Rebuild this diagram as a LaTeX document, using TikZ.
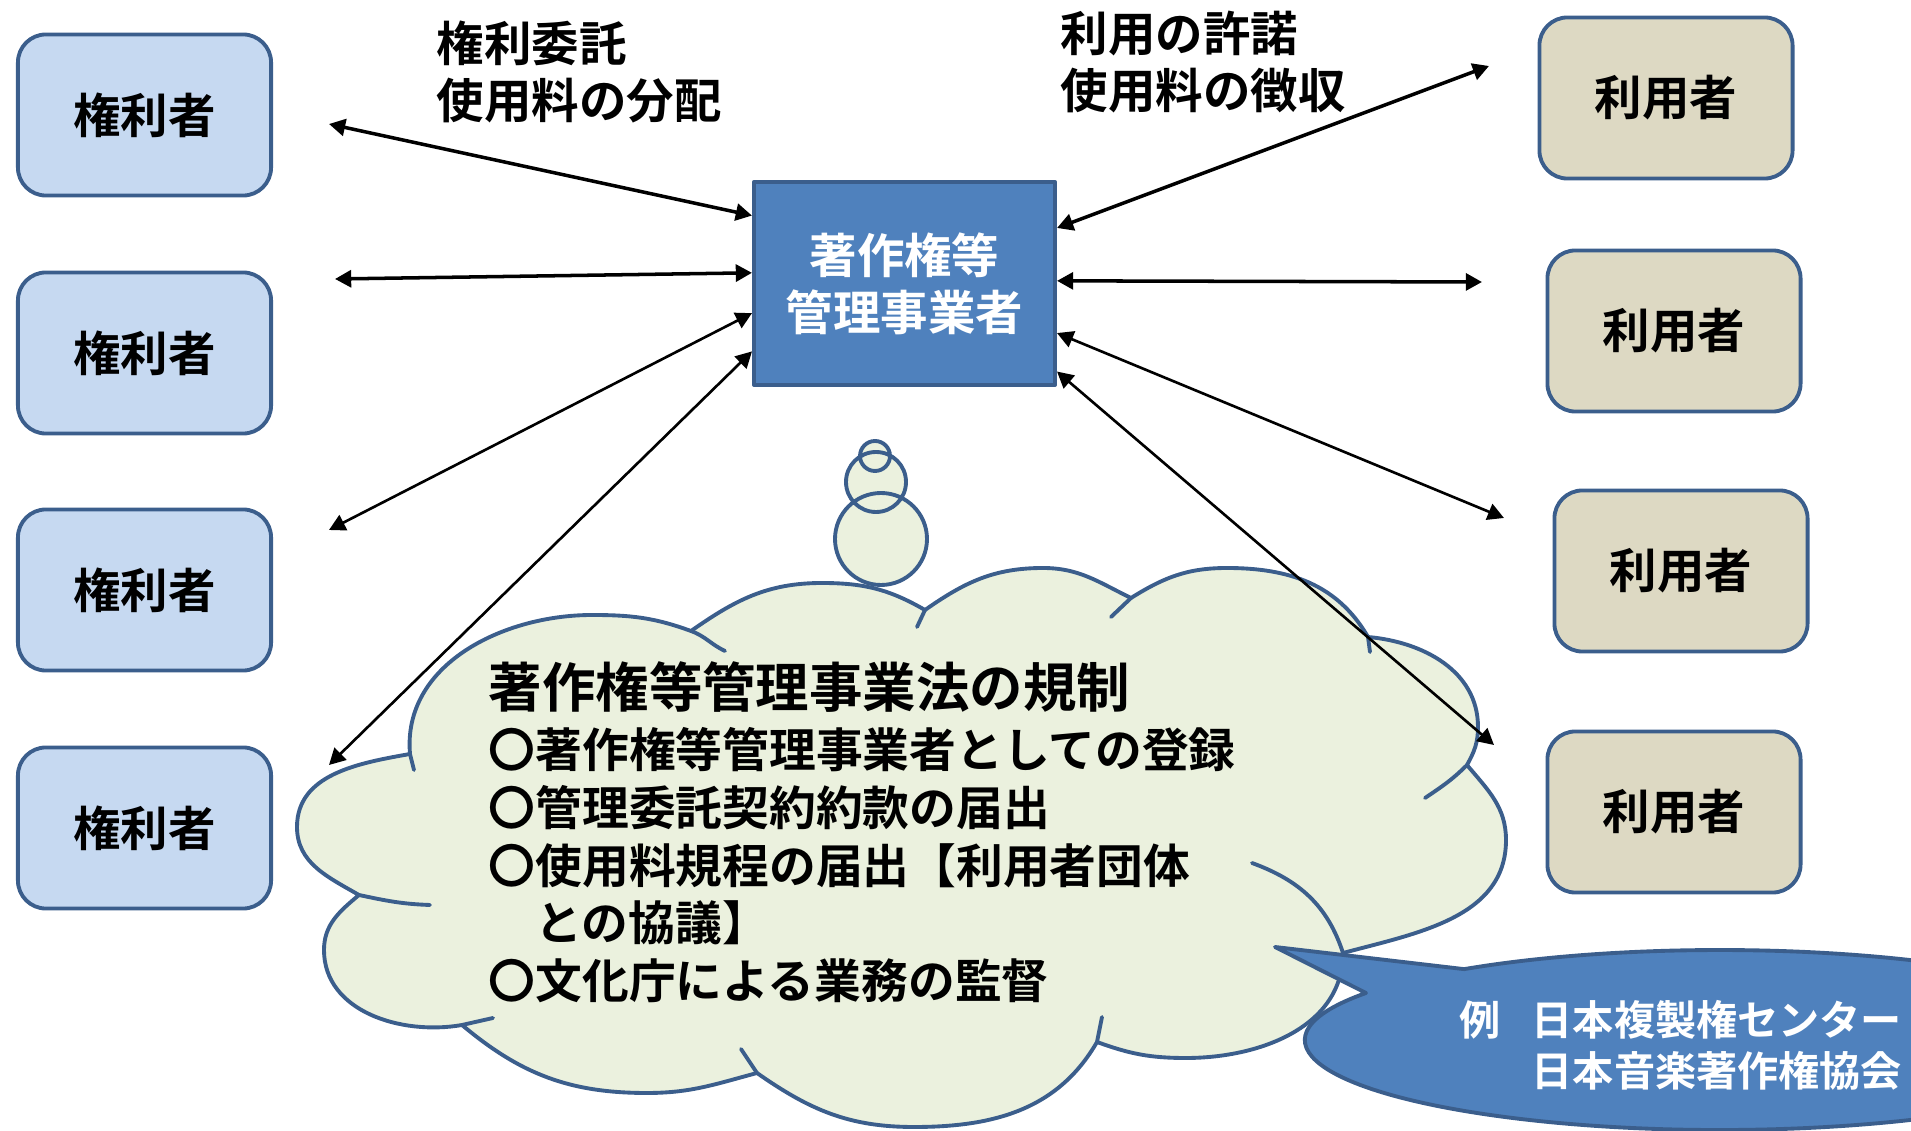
\documentclass[tikz,border=0pt]{standalone}
\usepackage{fontspec}
\setmainfont{Noto Sans CJK JP Bold}
\usetikzlibrary{arrows.meta}

\definecolor{bordblue}{RGB}{59,94,140}
\definecolor{holderblue}{RGB}{198,217,241}
\definecolor{usertan}{RGB}{221,217,195}
\definecolor{mgrblue}{RGB}{79,129,189}
\definecolor{cloudgreen}{RGB}{235,241,222}

\begin{document}
\begin{tikzpicture}[line cap=round,line join=round,>={Triangle[length=4.6pt,width=4.8pt]},x=0.01cm,y=0.01cm]
\tikzset{
    holder/.style=  {draw=bordblue, fill=holderblue, line width=1.1pt, rounded corners=0.28cm,
                     minimum width=2.53cm, minimum height=1.61cm, inner sep=0pt,
                     font=\fontsize{13.5pt}{16pt}\selectfont},
    user/.style=    {holder, fill=usertan},
    manager/.style= {draw=bordblue, fill=mgrblue, line width=1.1pt, minimum width=3.01cm,
                     minimum height=2.03cm, inner sep=0pt, text=white, align=center,
                     font=\fontsize{13.5pt}{16.2pt}\selectfont},
    sidenote/.style={inner sep=0pt, anchor=north west, align=left,
                     font=\fontsize{13.5pt}{16.2pt}\selectfont},
    cloudline/.style={draw=bordblue, line width=1.1pt},
    link/.style=    {<->, line width=1pt},
    thinlink/.style={<->, line width=0.75pt}
}
\useasboundingbox (0,0) rectangle (1911,-1131);
\clip (0,0) rectangle (1911,-1131);

%% cloud with the rules of the law
\filldraw[cloudline, fill=cloudgreen]
  (410,-754) to[out=95,in=180] (592,-615) to[out=0,in=160] (691,-631)
  to[out=35,in=180] (822,-583) to[out=0,in=150] (925,-610)
  to[out=35,in=180] (1043,-568) to[out=0,in=154] (1131,-598)
  to[out=32,in=180] (1227,-568) to[out=0,in=120] (1368,-637)
  to[out=-5,in=90] (1478,-727) to[out=-90,in=61] (1467,-765)
  to[out=-50,in=90] (1506,-840) to[out=-90,in=15] (1343,-953)
  to[out=-90,in=0] (1186,-1058) to[out=180,in=-20] (1097,-1042)
  to[out=-120,in=0] (914,-1127) to[out=180,in=-35] (757,-1073)
  to[out=-165,in=0] (647,-1093) to[out=180,in=-40] (462,-1025)
  to[out=-170,in=-90] (324,-950) to[out=90,in=-140] (359,-895)
  to[out=150,in=-90] (297,-827) to[out=90,in=-170] (410,-754) -- cycle;
\draw[cloudline]
  (410,-754) -- (414,-770)
  (691,-631) to[out=-20,in=155] (725,-651)
  (925,-610) -- (917,-627)
  (1131,-598) -- (1111,-617)
  (1368,-637) -- (1370,-652)
  (1467,-765) to[out=-135,in=34] (1425,-798)
  (1252,-863) to[out=-20,in=108] (1343,-953)
  (1097,-1042) -- (1102,-1017)
  (757,-1073) -- (741,-1049)
  (462,-1025) -- (493,-1018)
  (359,-895) to[out=-12,in=178] (430,-905);

%% thought bubbles
\fill[cloudgreen] (875,-456) circle (15) (876,-482) circle (30) (881,-539) circle (46);
\draw[cloudline] (875,-456) circle (15) (876,-482) circle (30) (881,-539) circle (46);

\node[inner sep=0pt, anchor=west, font=\fontsize{15.2pt}{18pt}\selectfont] (lawtitle)
  at (488,-687) {著作権等管理事業法の規制};
\node[sidenote, font=\fontsize{13.3pt}{16.4pt}\selectfont] (lawbody) at (488,-727)
  {〇著作権等管理事業者としての登録\\〇管理委託契約約款の届出\\〇使用料規程の届出【利用者団体\\\phantom{〇}との協議】\\〇文化庁による業務の監督};

%% callout with the examples
\filldraw[cloudline, fill=mgrblue] (1463,-969) -- (1275,-947) -- (1366,-993)
  arc[start angle=148.5, end angle=488, x radius=415, y radius=90] -- cycle;
\node[sidenote, text=white, font=\fontsize{11.7pt}{14.5pt}\selectfont] (ex) at (1459,-1000)
  {例\hspace{0.75em}日本複製権センター\\\phantom{例}\hspace{0.75em}日本音楽著作権協会};

%% boxes
\node[holder] (rh1) at (144.5,-115) {権利者};
\node[holder] (rh2) at (144.5,-353) {権利者};
\node[holder] (rh3) at (144.5,-590) {権利者};
\node[holder] (rh4) at (144.5,-828) {権利者};
\node[user] (us1) at (1666,-98) {利用者};
\node[user] (us2) at (1674,-331) {利用者};
\node[user] (us3) at (1681,-571) {利用者};
\node[user] (us4) at (1674,-812) {利用者};
\node[manager] (mgr) at (904.5,-283.5) {著作権等\\管理事業者};

\node[sidenote] (lblL) at (436,-20) {権利委託\\使用料の分配};
\node[sidenote] (lblR) at (1060,-10) {利用の許諾\\使用料の徴収};

%% connectors
\coordinate (rh1e) at (329,-124);
\coordinate (rh2e) at (335,-279);
\coordinate (rh3e) at (329,-530);
\coordinate (rh4e) at (329,-765);
\coordinate (us1e) at (1489,-66);
\coordinate (us2e) at (1482,-282);
\coordinate (us3e) at (1504,-518);
\coordinate (us4e) at (1494,-745);

\draw[link] (rh1e) -- (mgr.156);
\draw[link] (rh2e) -- (mgr.176);
\draw[thinlink] (rh3e) -- (mgr.191);
\draw[thinlink] (rh4e) -- (mgr.204);
\draw[link] (us1e) -- (mgr.20);
\draw[link] (us2e) -- (mgr.1);
\draw[thinlink] (us3e) -- (mgr.342);
\draw[thinlink] (us4e) -- (mgr.330);

\end{tikzpicture}
\end{document}
